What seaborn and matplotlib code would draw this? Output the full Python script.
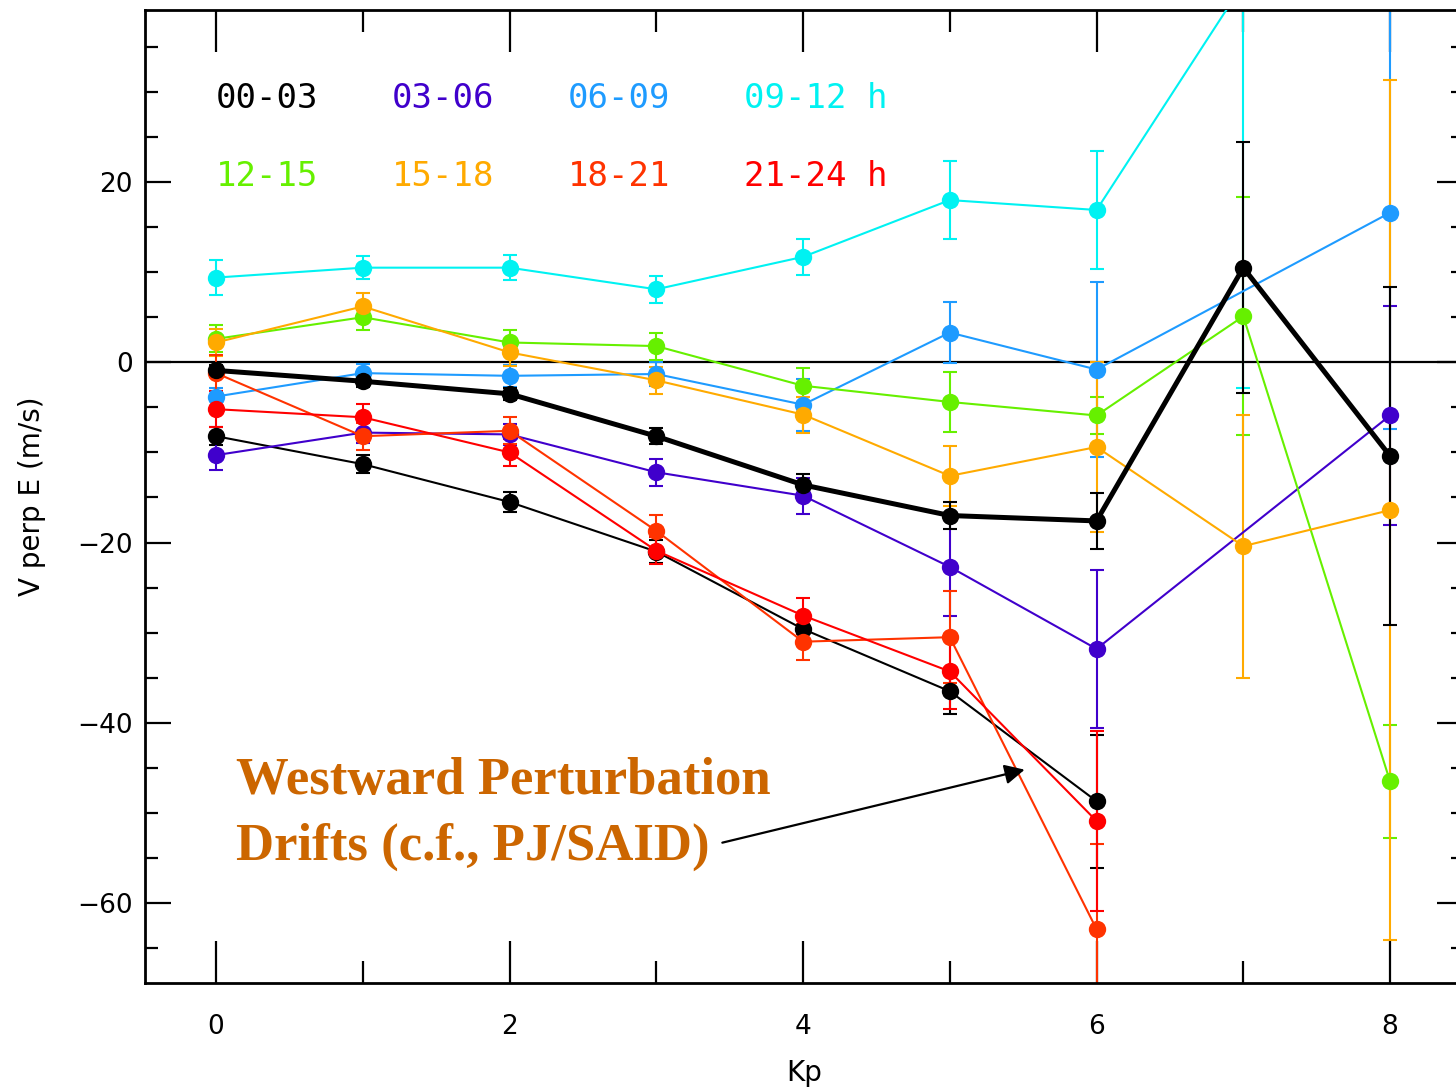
import numpy as np
import pandas as pd
import matplotlib
matplotlib.use("Agg")
import matplotlib.pyplot as plt
from matplotlib.ticker import MultipleLocator
import seaborn as sns

# ---- data: mean perpendicular drift (m/s) per Kp bin, by MLT sector ----
kp_all = [0, 1, 2, 3, 4, 5, 6, 7, 8]
v_all = [-0.9, -2.1, -3.5, -8.2, -13.6, -17.0, -17.6, 10.5, -10.4]
e_all = [0.6, 0.6, 0.7, 0.9, 1.2, 1.5, 3.1, 13.9, 18.7]

kp_0003 = [0, 1, 2, 3, 4, 5, 6]
v_0003 = [-8.2, -11.3, -15.5, -21.0, -29.6, -36.5, -48.7]
e_0003 = [1.0, 1.0, 1.1, 1.3, 1.8, 2.5, 7.4]

kp_0306 = [0, 1, 2, 3, 4, 5, 6, 8]
v_0306 = [-10.3, -7.8, -8.0, -12.2, -14.8, -22.7, -31.8, -5.9]
e_0306 = [1.7, 1.2, 1.2, 1.5, 2.0, 5.4, 8.8, 12.2]

kp_0609 = [0, 1, 2, 3, 4, 5, 6, 8]
v_0609 = [-3.8, -1.2, -1.5, -1.3, -4.7, 3.3, -0.8, 16.6]
e_0609 = [1.0, 1.0, 1.2, 1.3, 2.9, 3.4, 9.7, 24.0]

kp_0912 = [0, 1, 2, 3, 4, 5, 6, 7]
v_0912 = [9.4, 10.5, 10.5, 8.1, 11.7, 18.0, 16.9, 42.0]
e_0912 = [1.9, 1.3, 1.4, 1.5, 2.0, 4.3, 6.5, 44.8]

kp_1215 = [0, 1, 2, 3, 4, 5, 6, 7, 8]
v_1215 = [2.6, 5.0, 2.2, 1.8, -2.6, -4.4, -5.9, 5.1, -46.5]
e_1215 = [1.5, 1.4, 1.4, 1.5, 2.0, 3.3, 2.0, 13.2, 6.3]

kp_1518 = [0, 1, 2, 3, 4, 5, 6, 7, 8]
v_1518 = [2.2, 6.2, 1.1, -2.0, -5.8, -12.6, -9.4, -20.4, -16.4]
e_1518 = [1.5, 1.5, 1.5, 1.5, 2.0, 3.3, 9.4, 14.6, 47.7]

kp_1821 = [0, 1, 2, 3, 4, 5, 6]
v_1821 = [-1.2, -8.2, -7.6, -18.7, -31.0, -30.5, -62.9]
e_1821 = [2.0, 1.5, 1.5, 1.8, 2.0, 5.1, 9.5]

kp_2124 = [0, 1, 2, 3, 4, 5, 6]
v_2124 = [-5.2, -6.1, -10.0, -20.9, -28.1, -34.3, -50.9]
e_2124 = [2.0, 1.5, 1.5, 1.5, 2.0, 4.2, 10.0]

sectors = ["00-03", "03-06", "06-09", "09-12 h", "12-15", "15-18", "18-21", "21-24 h"]
colors = ["#000000", "#4000CC", "#1E9BFF", "#00F2F2",
          "#66F000", "#FFAA00", "#FF3300", "#FF0000"]

series = [
    ("00-03", kp_0003, v_0003, e_0003, colors[0], 1.5),
    ("03-06", kp_0306, v_0306, e_0306, colors[1], 1.5),
    ("06-09", kp_0609, v_0609, e_0609, colors[2], 1.5),
    ("09-12 h", kp_0912, v_0912, e_0912, colors[3], 1.5),
    ("12-15", kp_1215, v_1215, e_1215, colors[4], 1.5),
    ("15-18", kp_1518, v_1518, e_1518, colors[5], 1.5),
    ("18-21", kp_1821, v_1821, e_1821, colors[6], 1.5),
    ("21-24 h", kp_2124, v_2124, e_2124, colors[7], 1.5),
    ("all", kp_all, v_all, e_all, "#000000", 3.6),
]

sns.set_theme(style="ticks")
plt.rcParams["font.family"] = ["DejaVu Sans"]
plt.rcParams["text.color"] = "black"
plt.rcParams["axes.labelcolor"] = "black"

fig = plt.figure(figsize=(14.56, 10.92), dpi=100)
ax = fig.add_axes([145 / 1456, 1 - 983 / 1092, (1463 - 145) / 1456, (983 - 10) / 1092])

ax.axhline(0, color="black", lw=1.6, zorder=1)

for name, kp, v, e, col, lw in series:
    df = pd.DataFrame({"Kp": kp, "V": v})
    ax.errorbar(kp, v, yerr=e, fmt="none", ecolor=col, elinewidth=1.5,
                capsize=5, capthick=1.5, zorder=2)
    sns.lineplot(data=df, x="Kp", y="V", ax=ax, color=col, lw=lw,
                 marker="o", markersize=12.5, markeredgewidth=0,
                 sort=True, legend=False, zorder=3)

ax.set_xlim(-0.484, 8.497)
ax.set_ylim(-68.87, 39.09)

ax.xaxis.set_major_locator(MultipleLocator(2))
ax.xaxis.set_minor_locator(MultipleLocator(1))
ax.yaxis.set_major_locator(MultipleLocator(20))
ax.yaxis.set_minor_locator(MultipleLocator(5))
ax.tick_params(axis="both", which="both", direction="in", top=True, right=True,
               colors="black", labelsize=19, width=1.6)
ax.tick_params(axis="x", which="major", length=30, pad=22)
ax.tick_params(axis="x", which="minor", length=16)
ax.tick_params(axis="y", which="major", length=19, pad=9)
ax.tick_params(axis="y", which="minor", length=9)
ax.set_yticks([-60, -40, -20, 0, 20])
ax.set_yticklabels(["\u221260", "\u221240", "\u221220", "0", "20"])
for s in ax.spines.values():
    s.set_linewidth(2)
    s.set_color("black")

ax.set_xlabel("Kp", fontsize=20, labelpad=14, color="black")
ax.set_ylabel("V perp E (m/s)", fontsize=20, labelpad=22, color="black")

# sector colour key
key_x = [0.0, 1.2, 2.4, 3.6]
key_y = [29.3, 20.6]
for i, (lab, col) in enumerate(zip(sectors, colors)):
    ax.text(key_x[i % 4], key_y[i // 4], lab, color=col, fontsize=24.5,
            family="DejaVu Sans Mono", ha="left", va="center")

# annotation
note_col = "#CC6600"
ax.text(0.136, -46.5, "Westward Perturbation", color=note_col, fontsize=38,
        family="Liberation Serif", weight="bold", ha="left", va="center")
ax.text(0.136, -53.8, "Drifts (c.f., PJ/SAID)", color=note_col, fontsize=38,
        family="Liberation Serif", weight="bold", ha="left", va="center")
ax.annotate("", xy=(5.51, -45.2), xytext=(3.45, -53.3),
            arrowprops=dict(arrowstyle="-|>", color="black", lw=1.6,
                            mutation_scale=30, shrinkA=0, shrinkB=0))

fig.savefig("out.png", dpi=100)
